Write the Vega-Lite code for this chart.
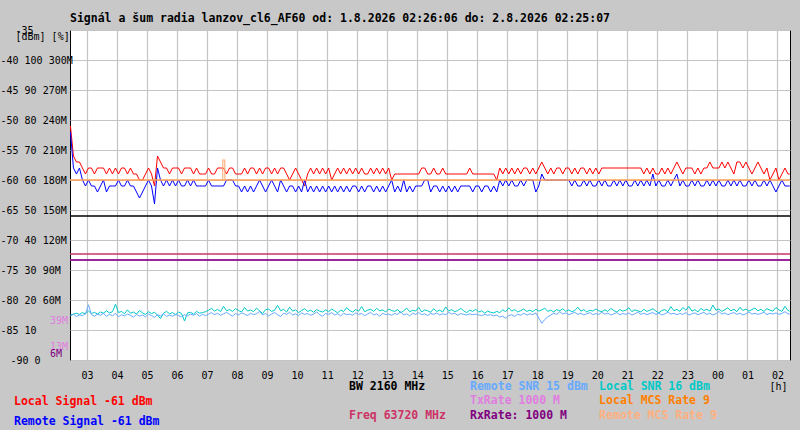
{
  "$schema": "https://vega.github.io/schema/vega-lite/v6.json",
  "width": 720,
  "height": 330,
  "autosize": "none",
  "padding": {"left": 70, "top": 30, "right": 10, "bottom": 70},
  "background": "#c8c8c8",
  "title": {
    "text": "Signál a šum radia lanzov_cl6_AF60 od: 1.8.2026 02:26:06 do: 2.8.2026 02:25:07",
    "anchor": "start",
    "frame": "group",
    "font": "DejaVu Sans Mono",
    "fontSize": 11.5,
    "fontWeight": "bold",
    "color": "black",
    "baseline": "middle",
    "offset": -5
  },
  "datasets": {
    "one": [{}],
    "radio": [
      {"h":2.45,"ls":-51,"rs":-52,"ln":15.0,"rn":14.7},
      {"h":2.55,"ls":-56,"rs":-58,"ln":15.3,"rn":15.2},
      {"h":2.65,"ls":-57,"rs":-59,"ln":15.6,"rn":14.5},
      {"h":2.75,"ls":-57,"rs":-58,"ln":15.2,"rn":15.0},
      {"h":2.85,"ls":-58,"rs":-60,"ln":15.8,"rn":14.8},
      {"h":2.95,"ls":-59,"rs":-61,"ln":15.4,"rn":15.4},
      {"h":3.05,"ls":-58,"rs":-60,"ln":16.3,"rn":18.4},
      {"h":3.15,"ls":-58,"rs":-61,"ln":15.5,"rn":15.1},
      {"h":3.25,"ls":-59,"rs":-61,"ln":15.9,"rn":14.6},
      {"h":3.35,"ls":-58,"rs":-62,"ln":15.3,"rn":15.3},
      {"h":3.45,"ls":-58,"rs":-61,"ln":16.0,"rn":14.9},
      {"h":3.55,"ls":-58,"rs":-60,"ln":15.6,"rn":15.6},
      {"h":3.65,"ls":-59,"rs":-62,"ln":16.4,"rn":14.5},
      {"h":3.75,"ls":-58,"rs":-61,"ln":15.7,"rn":15.2},
      {"h":3.85,"ls":-59,"rs":-61,"ln":16.1,"rn":14.8},
      {"h":3.95,"ls":-58,"rs":-61,"ln":18.6,"rn":15.5},
      {"h":4.05,"ls":-59,"rs":-60,"ln":15.8,"rn":14.4},
      {"h":4.15,"ls":-58,"rs":-61,"ln":16.2,"rn":15.1},
      {"h":4.25,"ls":-58,"rs":-61,"ln":15.4,"rn":14.7},
      {"h":4.35,"ls":-59,"rs":-60,"ln":16.7,"rn":15.3},
      {"h":4.45,"ls":-58,"rs":-61,"ln":15.6,"rn":14.9},
      {"h":4.55,"ls":-59,"rs":-61,"ln":16.0,"rn":14.3},
      {"h":4.65,"ls":-59,"rs":-62,"ln":15.3,"rn":15.2},
      {"h":4.75,"ls":-60,"rs":-63,"ln":16.5,"rn":14.6},
      {"h":4.85,"ls":-60,"rs":-62,"ln":15.7,"rn":15.0},
      {"h":4.95,"ls":-59,"rs":-61,"ln":15.2,"rn":14.4},
      {"h":5.05,"ls":-58,"rs":-60,"ln":16.1,"rn":15.3},
      {"h":5.15,"ls":-59,"rs":-61,"ln":15.5,"rn":14.8},
      {"h":5.25,"ls":-61,"rs":-64,"ln":15.9,"rn":14.2},
      {"h":5.35,"ls":-56,"rs":-58,"ln":15.0,"rn":15.1},
      {"h":5.45,"ls":-57,"rs":-60,"ln":13.8,"rn":14.7},
      {"h":5.55,"ls":-58,"rs":-61,"ln":15.6,"rn":15.4},
      {"h":5.65,"ls":-58,"rs":-60,"ln":16.2,"rn":14.5},
      {"h":5.75,"ls":-59,"rs":-61,"ln":15.4,"rn":15.0},
      {"h":5.85,"ls":-58,"rs":-60,"ln":15.8,"rn":14.6},
      {"h":5.95,"ls":-58,"rs":-61,"ln":15.1,"rn":15.2},
      {"h":6.05,"ls":-58,"rs":-60,"ln":16.0,"rn":14.8},
      {"h":6.15,"ls":-59,"rs":-61,"ln":15.5,"rn":14.4},
      {"h":6.25,"ls":-58,"rs":-61,"ln":13.0,"rn":15.1},
      {"h":6.35,"ls":-58,"rs":-60,"ln":15.7,"rn":14.7},
      {"h":6.45,"ls":-58,"rs":-61,"ln":15.9,"rn":15.3},
      {"h":6.55,"ls":-59,"rs":-60,"ln":15.3,"rn":14.9},
      {"h":6.65,"ls":-58,"rs":-61,"ln":16.2,"rn":15.5},
      {"h":6.75,"ls":-59,"rs":-61,"ln":15.6,"rn":14.6},
      {"h":6.85,"ls":-59,"rs":-61,"ln":15.8,"rn":15.2},
      {"h":6.95,"ls":-59,"rs":-61,"ln":16.1,"rn":14.8},
      {"h":7.05,"ls":-58,"rs":-60,"ln":16.6,"rn":15.3},
      {"h":7.15,"ls":-59,"rs":-61,"ln":17.2,"rn":15.8},
      {"h":7.25,"ls":-59,"rs":-61,"ln":16.3,"rn":15.1},
      {"h":7.35,"ls":-58,"rs":-61,"ln":16.9,"rn":15.6},
      {"h":7.45,"ls":-58,"rs":-61,"ln":16.1,"rn":14.9},
      {"h":7.55,"ls":-58,"rs":-61,"ln":17.9,"rn":15.4},
      {"h":7.65,"ls":-59,"rs":-60,"ln":16.4,"rn":15.9},
      {"h":7.75,"ls":-58,"rs":-60,"ln":16.8,"rn":15.2},
      {"h":7.85,"ls":-58,"rs":-60,"ln":16.2,"rn":14.6},
      {"h":7.95,"ls":-59,"rs":-61,"ln":17.1,"rn":15.5},
      {"h":8.05,"ls":-59,"rs":-61,"ln":16.5,"rn":15.0},
      {"h":8.15,"ls":-59,"rs":-62,"ln":16.0,"rn":15.7},
      {"h":8.25,"ls":-58,"rs":-61,"ln":17.5,"rn":15.3},
      {"h":8.35,"ls":-59,"rs":-62,"ln":16.3,"rn":14.8},
      {"h":8.45,"ls":-58,"rs":-61,"ln":16.7,"rn":15.6},
      {"h":8.55,"ls":-58,"rs":-62,"ln":16.1,"rn":15.1},
      {"h":8.65,"ls":-59,"rs":-61,"ln":17.3,"rn":15.4},
      {"h":8.75,"ls":-58,"rs":-60,"ln":16.4,"rn":16.2},
      {"h":8.85,"ls":-59,"rs":-61,"ln":15.5,"rn":15.0},
      {"h":8.95,"ls":-58,"rs":-62,"ln":16.8,"rn":15.5},
      {"h":9.05,"ls":-58,"rs":-61,"ln":17.0,"rn":14.7},
      {"h":9.15,"ls":-59,"rs":-60,"ln":16.2,"rn":15.3},
      {"h":9.25,"ls":-58,"rs":-61,"ln":16.6,"rn":15.8},
      {"h":9.35,"ls":-59,"rs":-62,"ln":18.2,"rn":15.1},
      {"h":9.45,"ls":-58,"rs":-60,"ln":16.4,"rn":14.5},
      {"h":9.55,"ls":-58,"rs":-61,"ln":16.9,"rn":15.6},
      {"h":9.65,"ls":-59,"rs":-62,"ln":16.0,"rn":15.2},
      {"h":9.75,"ls":-60,"rs":-61,"ln":17.6,"rn":15.9},
      {"h":9.85,"ls":-59,"rs":-61,"ln":16.3,"rn":15.0},
      {"h":9.95,"ls":-58,"rs":-62,"ln":16.7,"rn":15.4},
      {"h":10.05,"ls":-59,"rs":-61,"ln":15.8,"rn":14.8},
      {"h":10.15,"ls":-60,"rs":-62,"ln":16.5,"rn":15.7},
      {"h":10.25,"ls":-61,"rs":-60,"ln":17.1,"rn":15.2},
      {"h":10.35,"ls":-59,"rs":-62,"ln":16.2,"rn":15.5},
      {"h":10.45,"ls":-58,"rs":-61,"ln":16.6,"rn":14.9},
      {"h":10.55,"ls":-59,"rs":-62,"ln":15.9,"rn":15.3},
      {"h":10.65,"ls":-58,"rs":-61,"ln":16.8,"rn":16.0},
      {"h":10.75,"ls":-59,"rs":-62,"ln":16.3,"rn":15.1},
      {"h":10.85,"ls":-58,"rs":-61,"ln":16.0,"rn":14.6},
      {"h":10.95,"ls":-59,"rs":-62,"ln":16.7,"rn":15.5},
      {"h":11.05,"ls":-58,"rs":-61,"ln":16.1,"rn":15.2},
      {"h":11.15,"ls":-60,"rs":-62,"ln":17.0,"rn":15.8},
      {"h":11.25,"ls":-59,"rs":-61,"ln":16.4,"rn":15.0},
      {"h":11.35,"ls":-58,"rs":-62,"ln":15.7,"rn":15.4},
      {"h":11.45,"ls":-59,"rs":-61,"ln":16.6,"rn":14.7},
      {"h":11.55,"ls":-58,"rs":-62,"ln":16.2,"rn":15.6},
      {"h":11.65,"ls":-59,"rs":-61,"ln":17.4,"rn":15.1},
      {"h":11.75,"ls":-58,"rs":-62,"ln":16.5,"rn":15.3},
      {"h":11.85,"ls":-59,"rs":-61,"ln":16.0,"rn":14.9},
      {"h":11.95,"ls":-58,"rs":-61,"ln":16.8,"rn":15.7},
      {"h":12.05,"ls":-59,"rs":-62,"ln":16.3,"rn":15.2},
      {"h":12.15,"ls":-58,"rs":-61,"ln":17.8,"rn":15.5},
      {"h":12.25,"ls":-59,"rs":-62,"ln":16.1,"rn":14.8},
      {"h":12.35,"ls":-59,"rs":-61,"ln":16.6,"rn":15.3},
      {"h":12.45,"ls":-58,"rs":-61,"ln":16.9,"rn":15.9},
      {"h":12.55,"ls":-59,"rs":-62,"ln":16.2,"rn":15.0},
      {"h":12.65,"ls":-58,"rs":-61,"ln":17.2,"rn":15.4},
      {"h":12.75,"ls":-59,"rs":-62,"ln":16.4,"rn":14.6},
      {"h":12.85,"ls":-58,"rs":-61,"ln":16.7,"rn":15.6},
      {"h":12.95,"ls":-59,"rs":-62,"ln":16.0,"rn":15.1},
      {"h":13.05,"ls":-58,"rs":-61,"ln":17.0,"rn":15.3},
      {"h":13.15,"ls":-60,"rs":-60,"ln":16.5,"rn":14.9},
      {"h":13.25,"ls":-59,"rs":-62,"ln":16.2,"rn":15.5},
      {"h":13.35,"ls":-59,"rs":-61,"ln":16.8,"rn":15.2},
      {"h":13.45,"ls":-59,"rs":-62,"ln":15.7,"rn":16.1},
      {"h":13.55,"ls":-59,"rs":-60,"ln":16.4,"rn":15.0},
      {"h":13.65,"ls":-59,"rs":-62,"ln":17.3,"rn":15.4},
      {"h":13.75,"ls":-59,"rs":-61,"ln":16.1,"rn":14.7},
      {"h":13.85,"ls":-59,"rs":-62,"ln":16.6,"rn":15.6},
      {"h":13.95,"ls":-59,"rs":-61,"ln":16.3,"rn":15.2},
      {"h":14.05,"ls":-59,"rs":-61,"ln":17.5,"rn":15.8},
      {"h":14.15,"ls":-58,"rs":-61,"ln":16.0,"rn":15.1},
      {"h":14.25,"ls":-58,"rs":-60,"ln":16.7,"rn":15.4},
      {"h":14.35,"ls":-59,"rs":-60,"ln":16.4,"rn":14.8},
      {"h":14.45,"ls":-59,"rs":-62,"ln":15.9,"rn":15.5},
      {"h":14.55,"ls":-58,"rs":-61,"ln":17.1,"rn":15.2},
      {"h":14.65,"ls":-59,"rs":-61,"ln":16.2,"rn":15.7},
      {"h":14.75,"ls":-59,"rs":-62,"ln":16.6,"rn":15.0},
      {"h":14.85,"ls":-58,"rs":-61,"ln":16.0,"rn":15.4},
      {"h":14.95,"ls":-59,"rs":-62,"ln":17.7,"rn":15.1},
      {"h":15.05,"ls":-59,"rs":-61,"ln":16.3,"rn":15.9},
      {"h":15.15,"ls":-59,"rs":-62,"ln":16.8,"rn":15.3},
      {"h":15.25,"ls":-59,"rs":-61,"ln":16.1,"rn":15.6},
      {"h":15.35,"ls":-59,"rs":-62,"ln":16.5,"rn":14.9},
      {"h":15.45,"ls":-59,"rs":-61,"ln":17.2,"rn":15.5},
      {"h":15.55,"ls":-59,"rs":-61,"ln":16.4,"rn":15.2},
      {"h":15.65,"ls":-59,"rs":-61,"ln":15.8,"rn":15.0},
      {"h":15.75,"ls":-58,"rs":-61,"ln":16.6,"rn":15.4},
      {"h":15.85,"ls":-59,"rs":-62,"ln":16.2,"rn":15.1},
      {"h":15.95,"ls":-59,"rs":-61,"ln":16.9,"rn":15.3},
      {"h":16.05,"ls":-59,"rs":-61,"ln":16.0,"rn":15.0},
      {"h":16.15,"ls":-59,"rs":-62,"ln":16.4,"rn":14.8},
      {"h":16.25,"ls":-59,"rs":-61,"ln":15.6,"rn":15.2},
      {"h":16.35,"ls":-59,"rs":-61,"ln":16.3,"rn":14.9},
      {"h":16.45,"ls":-59,"rs":-62,"ln":15.9,"rn":15.1},
      {"h":16.55,"ls":-59,"rs":-61,"ln":15.7,"rn":14.7},
      {"h":16.65,"ls":-60,"rs":-62,"ln":16.2,"rn":15.0},
      {"h":16.75,"ls":-58,"rs":-60,"ln":15.8,"rn":14.3},
      {"h":16.85,"ls":-59,"rs":-61,"ln":16.7,"rn":14.6},
      {"h":16.95,"ls":-58,"rs":-60,"ln":16.1,"rn":13.9},
      {"h":17.05,"ls":-59,"rs":-61,"ln":17.4,"rn":14.8},
      {"h":17.15,"ls":-58,"rs":-60,"ln":16.3,"rn":15.1},
      {"h":17.25,"ls":-59,"rs":-61,"ln":16.8,"rn":14.5},
      {"h":17.35,"ls":-58,"rs":-61,"ln":16.0,"rn":15.3},
      {"h":17.45,"ls":-59,"rs":-60,"ln":16.5,"rn":14.9},
      {"h":17.55,"ls":-58,"rs":-61,"ln":17.0,"rn":15.6},
      {"h":17.65,"ls":-58,"rs":-60,"ln":16.2,"rn":15.0},
      {"h":17.75,"ls":-59,"rs":-60,"ln":16.6,"rn":15.4},
      {"h":17.85,"ls":-58,"rs":-60,"ln":16.1,"rn":15.1},
      {"h":17.95,"ls":-59,"rs":-62,"ln":16.9,"rn":15.7},
      {"h":18.05,"ls":-58,"rs":-61,"ln":16.3,"rn":14.0},
      {"h":18.15,"ls":-57,"rs":-59,"ln":16.7,"rn":12.2},
      {"h":18.25,"ls":-58,"rs":-60,"ln":17.3,"rn":13.5},
      {"h":18.35,"ls":-59,"rs":-60,"ln":16.2,"rn":14.4},
      {"h":18.45,"ls":-58,"rs":-60,"ln":16.6,"rn":15.0},
      {"h":18.55,"ls":-59,"rs":-60,"ln":16.0,"rn":15.6},
      {"h":18.65,"ls":-58,"rs":-60,"ln":16.8,"rn":15.2},
      {"h":18.75,"ls":-58,"rs":-60,"ln":16.4,"rn":16.1},
      {"h":18.85,"ls":-59,"rs":-60,"ln":17.1,"rn":15.3},
      {"h":18.95,"ls":-58,"rs":-60,"ln":16.2,"rn":15.7},
      {"h":19.05,"ls":-58,"rs":-60,"ln":16.7,"rn":15.1},
      {"h":19.15,"ls":-59,"rs":-61,"ln":16.1,"rn":15.5},
      {"h":19.25,"ls":-58,"rs":-60,"ln":16.5,"rn":15.9},
      {"h":19.35,"ls":-59,"rs":-61,"ln":17.6,"rn":15.2},
      {"h":19.45,"ls":-58,"rs":-61,"ln":16.3,"rn":15.6},
      {"h":19.55,"ls":-58,"rs":-60,"ln":16.8,"rn":15.0},
      {"h":19.65,"ls":-59,"rs":-61,"ln":16.0,"rn":15.4},
      {"h":19.75,"ls":-58,"rs":-60,"ln":16.6,"rn":15.8},
      {"h":19.85,"ls":-59,"rs":-61,"ln":16.3,"rn":15.1},
      {"h":19.95,"ls":-58,"rs":-61,"ln":17.0,"rn":15.5},
      {"h":20.05,"ls":-59,"rs":-60,"ln":16.4,"rn":15.2},
      {"h":20.15,"ls":-58,"rs":-61,"ln":16.1,"rn":15.9},
      {"h":20.25,"ls":-58,"rs":-60,"ln":16.7,"rn":15.3},
      {"h":20.35,"ls":-58,"rs":-61,"ln":16.2,"rn":15.6},
      {"h":20.45,"ls":-58,"rs":-61,"ln":17.2,"rn":15.0},
      {"h":20.55,"ls":-58,"rs":-60,"ln":16.5,"rn":15.4},
      {"h":20.65,"ls":-58,"rs":-61,"ln":16.0,"rn":15.8},
      {"h":20.75,"ls":-58,"rs":-60,"ln":16.8,"rn":15.1},
      {"h":20.85,"ls":-58,"rs":-61,"ln":16.3,"rn":15.5},
      {"h":20.95,"ls":-58,"rs":-60,"ln":16.6,"rn":15.2},
      {"h":21.05,"ls":-58,"rs":-61,"ln":17.4,"rn":15.7},
      {"h":21.15,"ls":-58,"rs":-61,"ln":16.1,"rn":15.0},
      {"h":21.25,"ls":-58,"rs":-60,"ln":16.7,"rn":15.4},
      {"h":21.35,"ls":-58,"rs":-61,"ln":16.4,"rn":16.0},
      {"h":21.45,"ls":-58,"rs":-60,"ln":16.0,"rn":15.2},
      {"h":21.55,"ls":-59,"rs":-61,"ln":16.9,"rn":15.6},
      {"h":21.65,"ls":-58,"rs":-60,"ln":16.2,"rn":15.1},
      {"h":21.75,"ls":-59,"rs":-61,"ln":16.6,"rn":15.5},
      {"h":21.85,"ls":-58,"rs":-59,"ln":17.1,"rn":15.8},
      {"h":21.95,"ls":-59,"rs":-61,"ln":16.3,"rn":15.2},
      {"h":22.05,"ls":-59,"rs":-60,"ln":15.7,"rn":15.6},
      {"h":22.15,"ls":-58,"rs":-61,"ln":16.5,"rn":15.0},
      {"h":22.25,"ls":-59,"rs":-61,"ln":16.8,"rn":15.4},
      {"h":22.35,"ls":-58,"rs":-60,"ln":16.1,"rn":15.9},
      {"h":22.45,"ls":-59,"rs":-61,"ln":17.8,"rn":15.3},
      {"h":22.55,"ls":-58,"rs":-60,"ln":16.4,"rn":15.6},
      {"h":22.65,"ls":-57,"rs":-59,"ln":16.9,"rn":15.1},
      {"h":22.75,"ls":-58,"rs":-61,"ln":16.2,"rn":15.5},
      {"h":22.85,"ls":-59,"rs":-60,"ln":17.5,"rn":15.2},
      {"h":22.95,"ls":-58,"rs":-61,"ln":16.6,"rn":15.8},
      {"h":23.05,"ls":-58,"rs":-61,"ln":17.9,"rn":15.0},
      {"h":23.15,"ls":-58,"rs":-60,"ln":16.3,"rn":15.4},
      {"h":23.25,"ls":-59,"rs":-61,"ln":16.8,"rn":15.7},
      {"h":23.35,"ls":-58,"rs":-60,"ln":16.0,"rn":15.1},
      {"h":23.45,"ls":-59,"rs":-61,"ln":17.2,"rn":15.5},
      {"h":23.55,"ls":-58,"rs":-61,"ln":16.5,"rn":15.9},
      {"h":23.65,"ls":-58,"rs":-60,"ln":16.9,"rn":15.2},
      {"h":23.75,"ls":-57,"rs":-61,"ln":16.3,"rn":15.6},
      {"h":23.85,"ls":-58,"rs":-60,"ln":18.3,"rn":15.0},
      {"h":23.95,"ls":-58,"rs":-61,"ln":16.6,"rn":15.4},
      {"h":24.05,"ls":-58,"rs":-60,"ln":17.0,"rn":16.2},
      {"h":24.15,"ls":-57,"rs":-61,"ln":16.2,"rn":15.3},
      {"h":24.25,"ls":-58,"rs":-61,"ln":16.8,"rn":15.7},
      {"h":24.35,"ls":-57,"rs":-60,"ln":17.4,"rn":15.1},
      {"h":24.45,"ls":-58,"rs":-61,"ln":16.4,"rn":15.5},
      {"h":24.55,"ls":-59,"rs":-60,"ln":16.9,"rn":15.8},
      {"h":24.65,"ls":-57,"rs":-61,"ln":16.1,"rn":15.2},
      {"h":24.75,"ls":-57,"rs":-60,"ln":17.6,"rn":15.6},
      {"h":24.85,"ls":-58,"rs":-61,"ln":16.5,"rn":15.0},
      {"h":24.95,"ls":-57,"rs":-61,"ln":17.0,"rn":15.4},
      {"h":25.05,"ls":-58,"rs":-60,"ln":16.3,"rn":16.0},
      {"h":25.15,"ls":-59,"rs":-61,"ln":16.8,"rn":15.3},
      {"h":25.25,"ls":-58,"rs":-60,"ln":17.3,"rn":15.6},
      {"h":25.35,"ls":-57,"rs":-61,"ln":16.4,"rn":15.2},
      {"h":25.45,"ls":-58,"rs":-61,"ln":16.9,"rn":15.5},
      {"h":25.55,"ls":-59,"rs":-60,"ln":16.2,"rn":15.9},
      {"h":25.65,"ls":-58,"rs":-61,"ln":17.1,"rn":15.1},
      {"h":25.75,"ls":-60,"rs":-60,"ln":16.6,"rn":15.6},
      {"h":25.85,"ls":-59,"rs":-61,"ln":16.3,"rn":15.3},
      {"h":25.95,"ls":-58,"rs":-62,"ln":17.5,"rn":15.7},
      {"h":26.05,"ls":-60,"rs":-61,"ln":16.7,"rn":15.2},
      {"h":26.15,"ls":-59,"rs":-60,"ln":16.2,"rn":15.5},
      {"h":26.25,"ls":-58,"rs":-61,"ln":17.9,"rn":16.1},
      {"h":26.35,"ls":-59,"rs":-61,"ln":16.5,"rn":15.4},
      {"h":26.41,"ls":-59,"rs":-61,"ln":16.3,"rn":15.3}
    ],
    "levels": [
      {"s": "BW", "v": 144},
      {"s": "Freq", "v": 106},
      {"s": "TxRate", "v": 100},
      {"s": "RxRate", "v": 100}
    ],
    "rateMarks": [
      {"s": "TxRate", "v": 39, "label": "39M"},
      {"s": "TxRate", "v": 13, "label": "13M"},
      {"s": "RxRate", "v": 6, "label": "6M"}
    ],
    "mcs": [
      {"s": "Local", "h": 2.435, "v": 9},
      {"s": "Local", "h": 26.4186, "v": 9},
      {"s": "Remote", "h": 2.435, "v": 9},
      {"s": "Remote", "h": 7.52, "v": 9},
      {"s": "Remote", "h": 7.525, "v": 10},
      {"s": "Remote", "h": 7.59, "v": 10},
      {"s": "Remote", "h": 7.595, "v": 9},
      {"s": "Remote", "h": 26.4186, "v": 9}
    ]
  },
  "resolve": {"scale": {"y": "independent"}, "axis": {"x": "independent", "y": "independent"}},
  "layer": [
    {
      "data": {"name": "radio"},
      "mark": {"type": "line", "strokeWidth": 1, "color": "#ff0000"},
      "encoding": {
        "x": {
          "field": "h", "type": "quantitative",
          "scale": {"domain": [2.435, 26.4186], "nice": false, "zero": false},
          "axis": {
            "orient": "bottom",
            "values": [3, 4, 5, 6, 7, 8, 9, 10, 11, 12, 13, 14, 15, 16, 17, 18, 19, 20, 21, 22, 23, 24, 25, 26],
            "labelExpr": "(datum.value % 24 < 10 ? '0' : '') + (datum.value % 24)",
            "ticks": false,
            "domain": false,
            "grid": true,
            "gridColor": "#c4c4c4",
            "gridWidth": 1.2,
            "labelFont": "DejaVu Sans Mono",
            "labelFontSize": 10,
            "labelColor": "black",
            "labelPadding": 15,
            "labelBaseline": "middle",
            "labelOverlap": false,
            "labelFlush": false,
            "labelBound": false,
            "title": "[h]",
            "titleX": 708,
            "titleY": 26,
            "titleAlign": "center",
            "titleBaseline": "middle",
            "titleFont": "DejaVu Sans Mono",
            "titleFontSize": 10,
            "titleFontWeight": "normal",
            "titleColor": "black"
          }
        },
        "y": {
          "field": "ls", "type": "quantitative",
          "scale": {"domain": [-90, -35], "nice": false, "zero": false},
          "axis": {
            "orient": "left",
            "values": [-90, -85, -80, -75, -70, -65, -60, -55, -50, -45, -40, -35],
            "labelExpr": "datum.value == -35 ? '-35' : datum.value == -90 ? '-90 0' : datum.value + ' ' + (2 * (datum.value + 90)) + (datum.value >= -80 ? ' ' + (6 * (datum.value + 90)) + 'M' : '')",
            "labelAlign": "left",
            "labelBaseline": "middle",
            "labelPadding": {"condition": [{"test": "datum.value == -90", "value": 60}, {"test": "datum.value == -35", "value": 55}], "value": 70},
            "ticks": false,
            "domain": false,
            "grid": true,
            "gridColor": "#c4c4c4",
            "gridWidth": 1.2,
            "labelFont": "DejaVu Sans Mono",
            "labelFontSize": 10,
            "labelColor": "black",
            "labelOverlap": false,
            "labelFlush": false,
            "labelBound": false,
            "title": "[dBm] [%]",
            "titleAngle": 0,
            "titleAlign": "left",
            "titleBaseline": "middle",
            "titleX": -55,
            "titleY": 6,
            "titleFont": "DejaVu Sans Mono",
            "titleFontSize": 10,
            "titleFontWeight": "normal",
            "titleColor": "black"
          }
        }
      }
    },
    {
      "data": {"name": "radio"},
      "mark": {"type": "line", "strokeWidth": 1, "color": "#00c8c8"},
      "encoding": {
        "x": {"field": "h", "type": "quantitative", "scale": {"domain": [2.435, 26.4186], "nice": false, "zero": false}, "axis": null},
        "y": {"field": "ln", "type": "quantitative", "scale": {"domain": [0, 110], "nice": false, "zero": false}, "axis": null}
      }
    },
    {
      "data": {"name": "radio"},
      "mark": {"type": "line", "strokeWidth": 1, "color": "#66aaff"},
      "encoding": {
        "x": {"field": "h", "type": "quantitative", "scale": {"domain": [2.435, 26.4186], "nice": false, "zero": false}, "axis": null},
        "y": {"field": "rn", "type": "quantitative", "scale": {"domain": [0, 110], "nice": false, "zero": false}, "axis": null}
      }
    },
    {
      "data": {"name": "levels"},
      "mark": {"type": "rule", "strokeWidth": 1.5},
      "encoding": {
        "y": {"field": "v", "type": "quantitative", "scale": {"domain": [0, 330], "nice": false, "zero": false}, "axis": null},
        "color": {"field": "s", "type": "nominal", "scale": {"domain": ["BW", "Freq", "TxRate", "RxRate"], "range": ["#000000", "#cc3366", "#e07ee0", "#800080"]}, "legend": null}
      }
    },
    {
      "data": {"name": "rateMarks"},
      "mark": {"type": "text", "align": "left", "baseline": "middle", "font": "DejaVu Sans Mono", "fontSize": 10},
      "encoding": {
        "x": {"datum": 1.77, "type": "quantitative", "scale": {"domain": [2.435, 26.4186], "nice": false, "zero": false}, "axis": null},
        "y": {"field": "v", "type": "quantitative", "scale": {"domain": [0, 330], "nice": false, "zero": false}, "axis": null},
        "text": {"field": "label"},
        "color": {"field": "s", "type": "nominal", "scale": {"domain": ["BW", "Freq", "TxRate", "RxRate"], "range": ["#000000", "#cc3366", "#e07ee0", "#800080"]}, "legend": null}
      }
    },
    {
      "data": {"name": "radio"},
      "mark": {"type": "line", "strokeWidth": 1, "color": "#0000ff"},
      "encoding": {
        "x": {"field": "h", "type": "quantitative", "scale": {"domain": [2.435, 26.4186], "nice": false, "zero": false}, "axis": null},
        "y": {"field": "rs", "type": "quantitative", "scale": {"domain": [-90, -35], "nice": false, "zero": false}, "axis": null}
      }
    },
    {
      "data": {"name": "one"},
      "mark": {"type": "text", "text": "Local Signal -61 dBm", "align": "left", "baseline": "middle", "font": "DejaVu Sans Mono", "fontSize": 11.5, "fontWeight": "bold", "color": "#ff0000"},
      "encoding": {
        "x": {"datum": 0.57, "type": "quantitative", "scale": {"domain": [2.435, 26.4186], "nice": false, "zero": false}, "axis": null},
        "y": {"datum": -97, "type": "quantitative", "scale": {"domain": [-90, -35], "nice": false, "zero": false}, "axis": null}
      }
    },
    {
      "data": {"name": "one"},
      "mark": {"type": "text", "text": "Remote Signal -61 dBm", "align": "left", "baseline": "middle", "font": "DejaVu Sans Mono", "fontSize": 11.5, "fontWeight": "bold", "color": "#0000ff"},
      "encoding": {
        "x": {"datum": 0.57, "type": "quantitative", "scale": {"domain": [2.435, 26.4186], "nice": false, "zero": false}, "axis": null},
        "y": {"datum": -100.33, "type": "quantitative", "scale": {"domain": [-90, -35], "nice": false, "zero": false}, "axis": null}
      }
    },
    {
      "data": {"name": "one"},
      "mark": {"type": "text", "text": "BW 2160 MHz", "align": "left", "baseline": "middle", "font": "DejaVu Sans Mono", "fontSize": 11.5, "fontWeight": "bold", "color": "#000000"},
      "encoding": {
        "x": {"datum": 11.73, "type": "quantitative", "scale": {"domain": [2.435, 26.4186], "nice": false, "zero": false}, "axis": null},
        "y": {"datum": -94.5, "type": "quantitative", "scale": {"domain": [-90, -35], "nice": false, "zero": false}, "axis": null}
      }
    },
    {
      "data": {"name": "one"},
      "mark": {"type": "text", "text": "Freq 63720 MHz", "align": "left", "baseline": "middle", "font": "DejaVu Sans Mono", "fontSize": 11.5, "fontWeight": "bold", "color": "#cc3366"},
      "encoding": {
        "x": {"datum": 11.73, "type": "quantitative", "scale": {"domain": [2.435, 26.4186], "nice": false, "zero": false}, "axis": null},
        "y": {"datum": -99.33, "type": "quantitative", "scale": {"domain": [-90, -35], "nice": false, "zero": false}, "axis": null}
      }
    },
    {
      "data": {"name": "one"},
      "mark": {"type": "text", "text": "Remote SNR 15 dBm", "align": "left", "baseline": "middle", "font": "DejaVu Sans Mono", "fontSize": 11.5, "fontWeight": "bold", "color": "#66aaff"},
      "encoding": {
        "x": {"datum": 15.76, "type": "quantitative", "scale": {"domain": [2.435, 26.4186], "nice": false, "zero": false}, "axis": null},
        "y": {"datum": -94.5, "type": "quantitative", "scale": {"domain": [-90, -35], "nice": false, "zero": false}, "axis": null}
      }
    },
    {
      "data": {"name": "one"},
      "mark": {"type": "text", "text": "TxRate 1000 M", "align": "left", "baseline": "middle", "font": "DejaVu Sans Mono", "fontSize": 11.5, "fontWeight": "bold", "color": "#e07ee0"},
      "encoding": {
        "x": {"datum": 15.76, "type": "quantitative", "scale": {"domain": [2.435, 26.4186], "nice": false, "zero": false}, "axis": null},
        "y": {"datum": -96.83, "type": "quantitative", "scale": {"domain": [-90, -35], "nice": false, "zero": false}, "axis": null}
      }
    },
    {
      "data": {"name": "one"},
      "mark": {"type": "text", "text": "RxRate: 1000 M", "align": "left", "baseline": "middle", "font": "DejaVu Sans Mono", "fontSize": 11.5, "fontWeight": "bold", "color": "#800080"},
      "encoding": {
        "x": {"datum": 15.76, "type": "quantitative", "scale": {"domain": [2.435, 26.4186], "nice": false, "zero": false}, "axis": null},
        "y": {"datum": -99.33, "type": "quantitative", "scale": {"domain": [-90, -35], "nice": false, "zero": false}, "axis": null}
      }
    },
    {
      "data": {"name": "one"},
      "mark": {"type": "text", "text": "Local SNR 16 dBm", "align": "left", "baseline": "middle", "font": "DejaVu Sans Mono", "fontSize": 11.5, "fontWeight": "bold", "color": "#00c8c8"},
      "encoding": {
        "x": {"datum": 20.06, "type": "quantitative", "scale": {"domain": [2.435, 26.4186], "nice": false, "zero": false}, "axis": null},
        "y": {"datum": -94.5, "type": "quantitative", "scale": {"domain": [-90, -35], "nice": false, "zero": false}, "axis": null}
      }
    },
    {
      "data": {"name": "one"},
      "mark": {"type": "text", "text": "Local MCS Rate 9", "align": "left", "baseline": "middle", "font": "DejaVu Sans Mono", "fontSize": 11.5, "fontWeight": "bold", "color": "#ff8000"},
      "encoding": {
        "x": {"datum": 20.06, "type": "quantitative", "scale": {"domain": [2.435, 26.4186], "nice": false, "zero": false}, "axis": null},
        "y": {"datum": -96.83, "type": "quantitative", "scale": {"domain": [-90, -35], "nice": false, "zero": false}, "axis": null}
      }
    },
    {
      "data": {"name": "one"},
      "mark": {"type": "text", "text": "Remote MCS Rate 9", "align": "left", "baseline": "middle", "font": "DejaVu Sans Mono", "fontSize": 11.5, "fontWeight": "bold", "color": "#ffb080"},
      "encoding": {
        "x": {"datum": 20.06, "type": "quantitative", "scale": {"domain": [2.435, 26.4186], "nice": false, "zero": false}, "axis": null},
        "y": {"datum": -99.33, "type": "quantitative", "scale": {"domain": [-90, -35], "nice": false, "zero": false}, "axis": null}
      }
    },
    {
      "data": {"name": "mcs"},
      "transform": [{"filter": "datum.s == 'Local'"}],
      "mark": {"type": "line", "strokeWidth": 1.2, "color": "#ff8000"},
      "encoding": {
        "x": {"field": "h", "type": "quantitative", "scale": {"domain": [2.435, 26.4186], "nice": false, "zero": false}, "axis": null},
        "y": {"field": "v", "type": "quantitative", "scale": {"domain": [0, 16.5], "nice": false, "zero": false}, "axis": null}
      }
    },
    {
      "data": {"name": "mcs"},
      "transform": [{"filter": "datum.s == 'Remote'"}],
      "mark": {"type": "line", "strokeWidth": 1.2, "color": "#ffb080"},
      "encoding": {
        "x": {"field": "h", "type": "quantitative", "scale": {"domain": [2.435, 26.4186], "nice": false, "zero": false}, "axis": null},
        "y": {"field": "v", "type": "quantitative", "scale": {"domain": [0, 16.5], "nice": false, "zero": false}, "axis": null}
      }
    }
  ],
  "config": {
    "font": "DejaVu Sans Mono",
    "view": {"fill": "white", "stroke": "black", "strokeWidth": 1}
  }
}
